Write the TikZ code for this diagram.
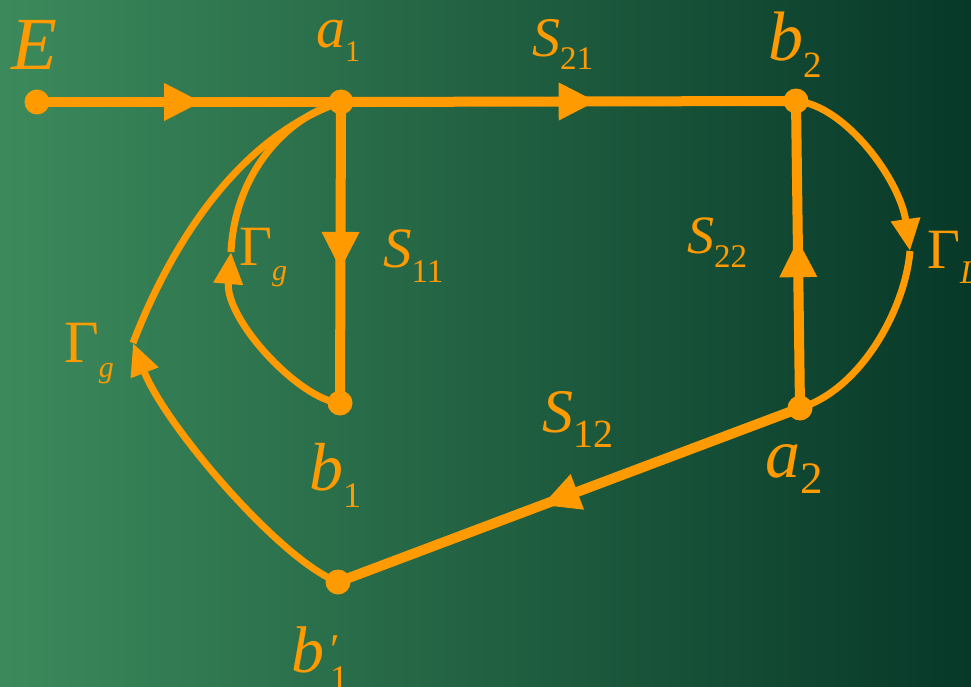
\documentclass[tikz,border=0pt]{standalone}
\usepackage{fontspec}
\setmainfont{Liberation Serif}
\usetikzlibrary{arrows.meta,decorations.markings}
\definecolor{org}{HTML}{FF9A00}
\definecolor{bgL}{HTML}{3C8A5C}
\definecolor{bgM}{HTML}{195B37}
\definecolor{bgR}{HTML}{073828}
% label: size, main, subsize, sub, drop
\newcommand{\Lbl}[5]{{\fontsize{#1}{#1}\selectfont #2}\raisebox{-#5pt}{\fontsize{#3}{#3}\selectfont #4}}
\begin{document}
\begin{tikzpicture}[x=1pt,y=-1pt,
  dotnode/.style={circle,fill=org,inner sep=0pt,minimum size=25pt},
  thick line/.style={draw=org,line width=10pt},
  curve line/.style={draw=org,line width=7pt},
  midarrow/.style={postaction={decorate,decoration={markings,
      mark=at position #1 with {\arrow{Triangle[length=38pt,width=35pt]}}}}},
  endarrow/.style={-{Triangle[length=32pt,width=28pt]}},
  lab/.style={anchor=base west,inner sep=0pt,text=org}]
\useasboundingbox (0,0) rectangle (971,687);
\shade[left color=bgL,middle color=bgM,right color=bgR] (0,0) rectangle (971,687);

% nodes
\node[dotnode] (E)   at (37,102) {};
\node[dotnode] (a1)  at (341,102) {};
\node[dotnode] (b2)  at (796,101) {};
\node[dotnode] (b1)  at (340,403) {};
\node[dotnode] (a2)  at (800,408) {};
\node[dotnode] (b1p) at (338,582) {};
\coordinate (gL) at (910,251);
\coordinate (gi) at (231,252);
\coordinate (go) at (133,343);

% curves
\draw[curve line,endarrow] (b2.center) .. controls (845,105) and (900,180) .. (gL);
\draw[curve line] (gL) .. controls (905,310) and (860,390) .. (a2.center);
\draw[curve line] (a1.center) .. controls (290,115) and (235,170) .. (gi);
\draw[curve line,endarrow] (b1.center) .. controls (300,400) and (225,320) .. (gi);
\draw[curve line,endarrow] (b1p.center) .. controls (280,560) and (165,425) .. (go);
\draw[curve line] (go) .. controls (165,260) and (230,140) .. (a1.center);

% straight connectors
\path[thick line,midarrow=0.543] (E.center) -- (a1.center);
\path[thick line,midarrow=0.562] (a1.center) -- (b2.center);
\path[thick line,midarrow=0.558] (a1.center) -- (b1.center);
\path[thick line,midarrow=0.55] (a2.center) -- (b2.center);
\path[thick line,midarrow=0.559] (a2.center) -- (b1p.center);

% labels
\node[lab] (tE)   at (11,70)  {\fontsize{75}{75}\selectfont\itshape E};
\node[lab] (ta1)  at (316,48) {\itshape\Lbl{58}{a}{30}{\upshape 1}{14}};
\node[lab] (tS21) at (532,57) {\itshape\Lbl{56}{S}{33}{\upshape 21}{13}};
\node[lab] (tb2)  at (768,61) {\itshape\Lbl{70}{b}{37}{\upshape 2}{17}};
\node[lab] (tgi)  at (239,265) {\Lbl{57}{Γ}{30}{\itshape g}{15}};
\node[lab] (tS11) at (383,267) {\itshape\Lbl{57}{S}{33}{\upshape 11}{15}};
\node[lab] (tS22) at (687,253) {\itshape\Lbl{54}{S}{33}{\upshape 22}{14}};
\node[lab] (tgL)  at (927,268) {\Lbl{57}{Γ}{33}{\itshape L}{15}};
\node[lab] (tgo)  at (64,362) {\Lbl{60}{Γ}{30}{\itshape g}{15}};
\node[lab] (tS12) at (542,432) {\itshape\Lbl{62}{S}{40}{\upshape 12}{15}};
\node[lab] (tb1)  at (309,490) {\itshape\Lbl{68}{b}{36}{\upshape 1}{17}};
\node[lab] (ta2)  at (765,477) {\itshape\Lbl{70}{a}{45}{\upshape 2}{16}};
\node[lab] (tb1p) at (291,672) {\itshape{\fontsize{66}{66}\selectfont b}\kern6pt\rlap{\raisebox{8pt}{\fontsize{44}{44}\selectfont\upshape\char"2032}}\raisebox{-18pt}{\fontsize{36}{36}\selectfont\upshape 1}};
\end{tikzpicture}
\end{document}
